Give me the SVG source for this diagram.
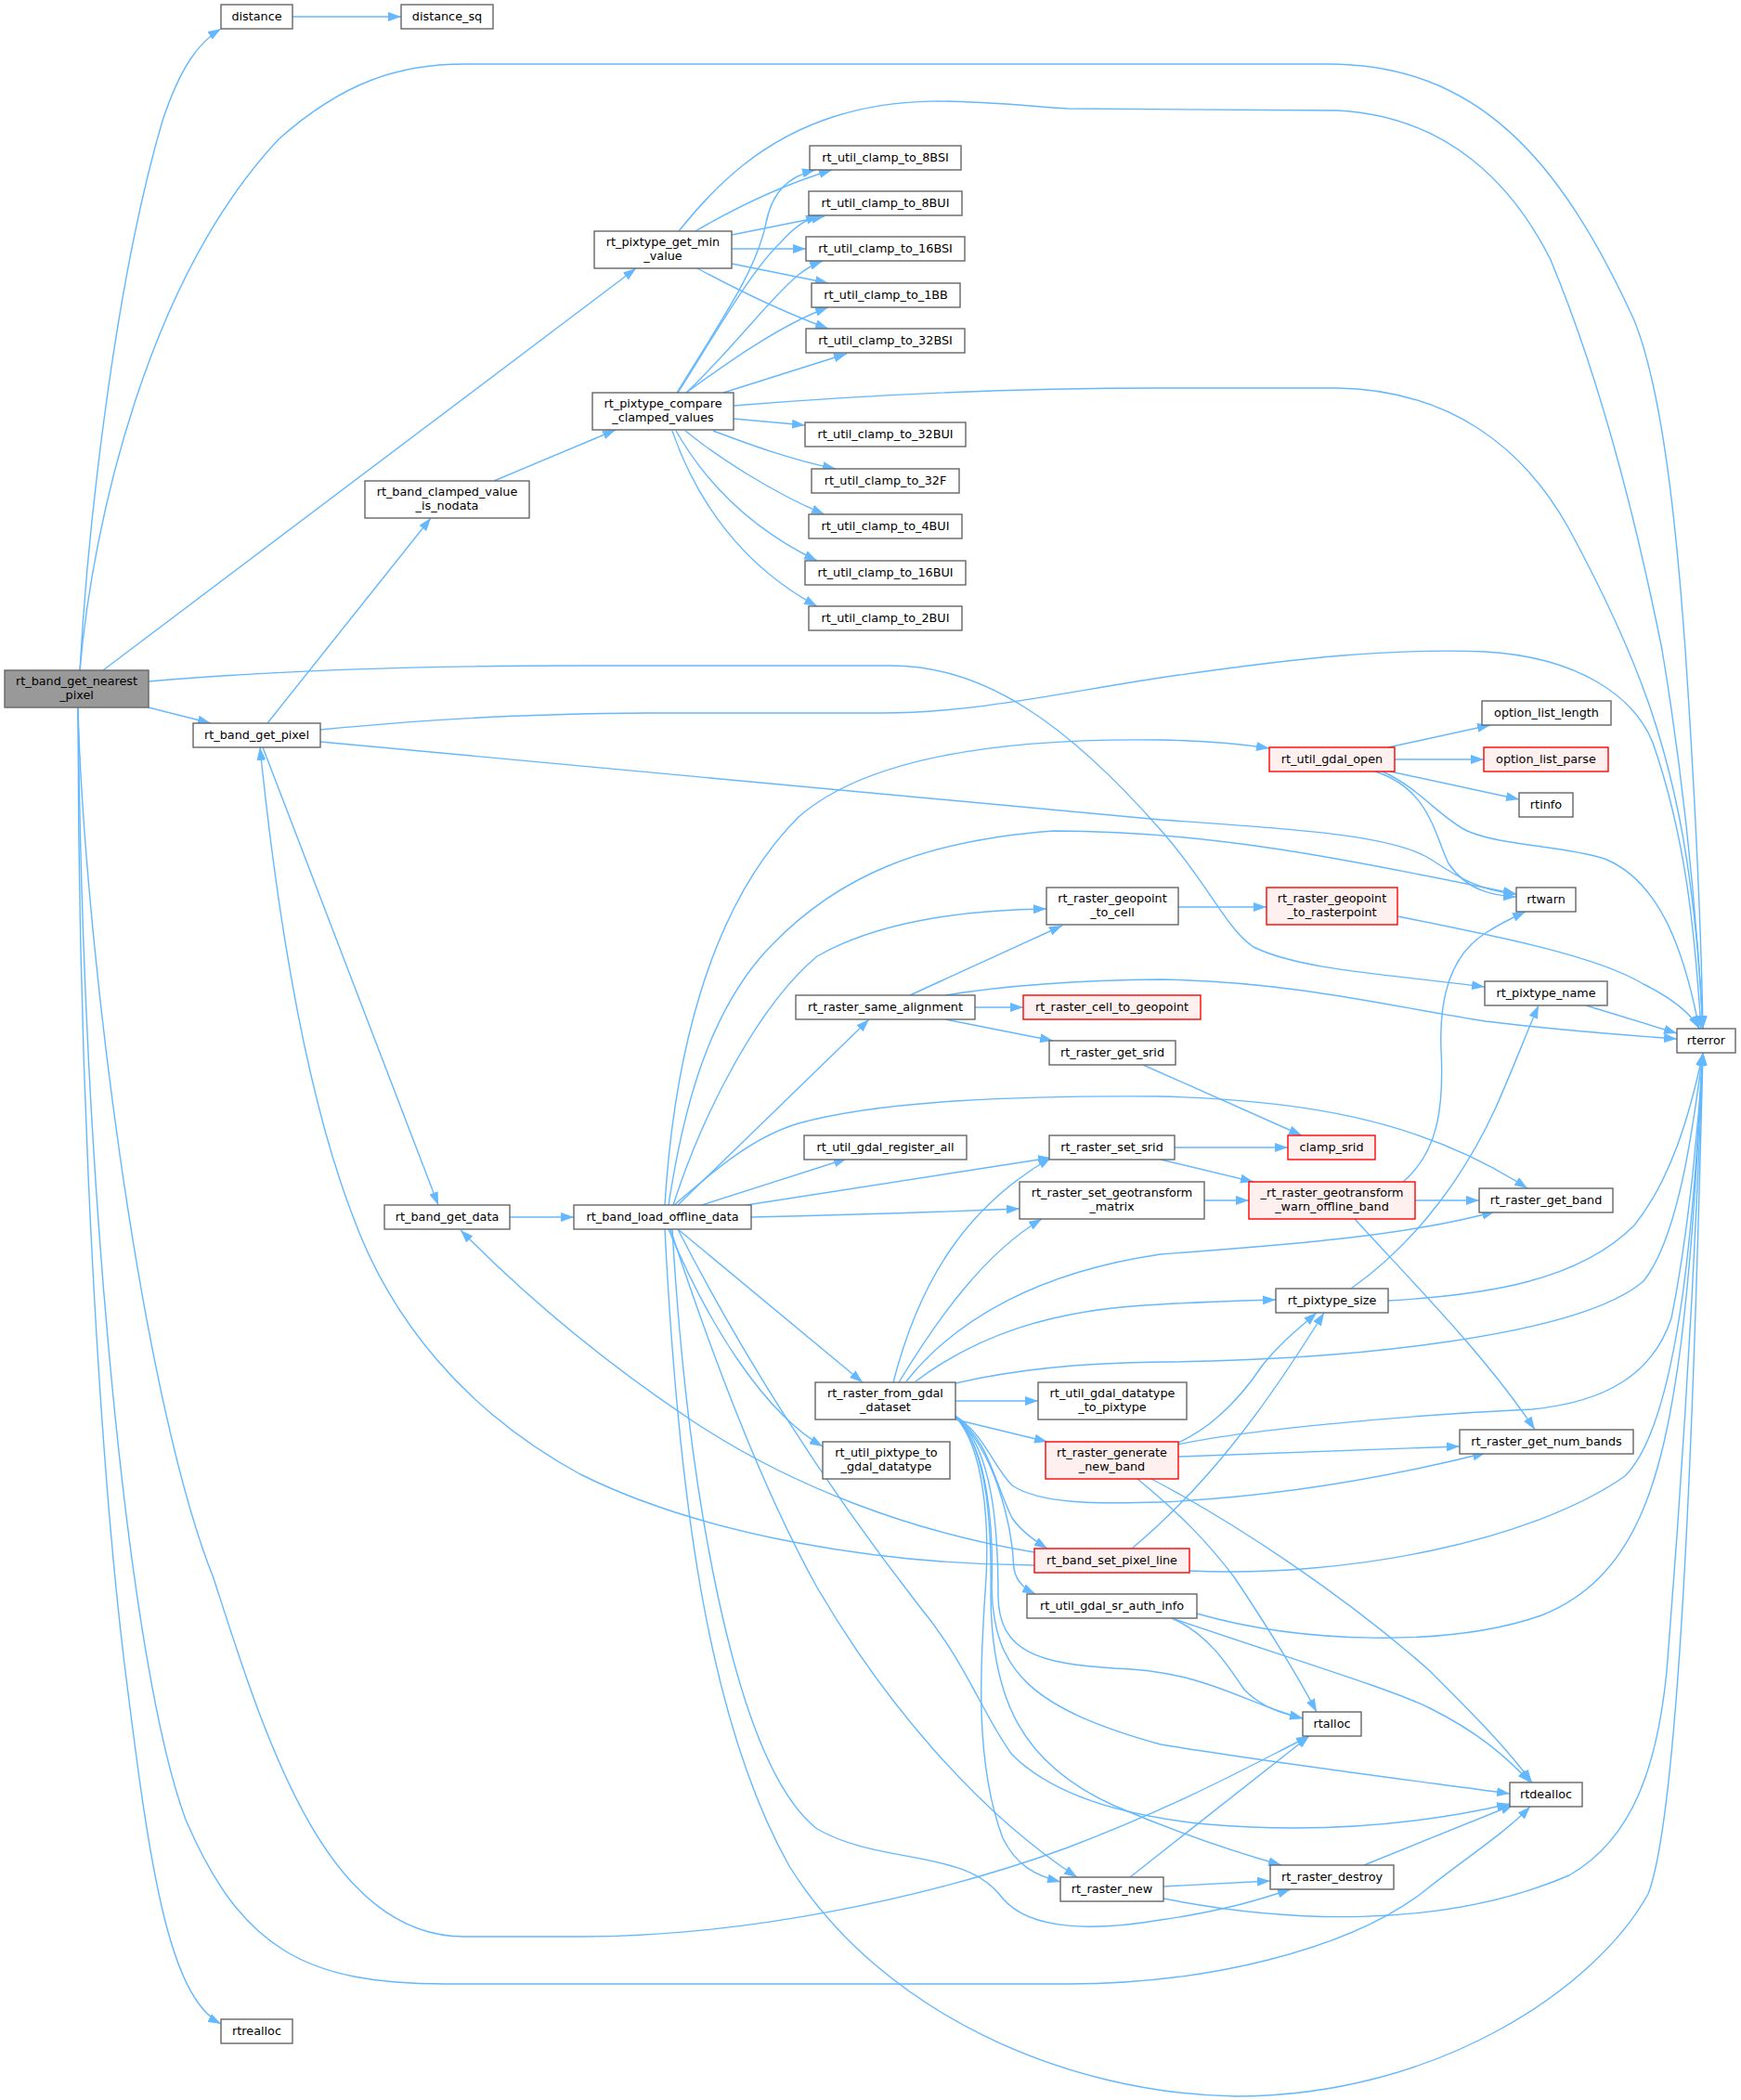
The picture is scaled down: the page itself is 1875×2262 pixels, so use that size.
<svg xmlns="http://www.w3.org/2000/svg" width="1875" height="2262" viewBox="0 0 1875 2262">
<style>
.n rect{fill:#ffffff;stroke:#666666;stroke-width:1.4}
.r rect{fill:#fff0f0;stroke:#ff0000;stroke-width:1.4}
.root rect{fill:#999999;stroke:#666666;stroke-width:1.4}
text{font-family:"DejaVu Sans",Verdana,sans-serif;font-size:12.8px;fill:#000000;text-anchor:middle}
#edges path{fill:none;stroke:#63b8ff;stroke-width:1.4;marker-end:url(#a)}
</style>
<defs>
<marker id="a" viewBox="0 0 14 10" refX="14" refY="5" markerWidth="14" markerHeight="10" markerUnits="userSpaceOnUse" orient="auto"><path d="M0,0 L14,5 L0,10 z" fill="#63b8ff"/></marker>
</defs>
<rect x="0" y="0" width="1875" height="2262" fill="#ffffff"/>
<g id="edges">
<path d="M 315,18 L 432,18"/>
<path d="M 86,722 C 95,560 125,300 175,130 C 195,70 215,45 238,31"/>
<path d="M 86,722 C 100,560 160,300 300,150 C 370,88 430,69 500,69 L 1430,69 C 1590,69 1680,170 1760,345 C 1790,420 1805,560 1815,700 C 1825,850 1832,1000 1834,1108"/>
<path d="M 111,722 L 685,289"/>
<path d="M 160,762 L 227,779"/>
<path d="M 160,734 C 300,722 450,717 625,717 L 960,717 C 1060,717 1150,780 1250,894 C 1300,950 1320,1000 1350,1020 C 1400,1045 1500,1050 1599,1063"/>
<path d="M 84,762 C 90,1000 150,1500 230,1700 C 285,1870 350,2086 500,2086 L 625,2086 C 800,2086 1000,2045 1150,1990 C 1280,1940 1350,1900 1410,1870"/>
<path d="M 84,762 C 84,1200 110,1600 135,1800 C 160,2000 180,2150 238,2180"/>
<path d="M 84,762 C 90,1300 140,1800 200,1960 C 260,2100 330,2137 480,2137 L 1150,2137 C 1300,2137 1450,2100 1530,2040 C 1580,2000 1620,1975 1648,1946"/>
<path d="M 288,779 L 464,558"/>
<path d="M 283,805 L 472,1298"/>
<path d="M 345,786 C 450,776 550,769 700,768 L 950,768 C 1050,768 1150,745 1250,730 C 1400,708 1500,698 1600,702 C 1700,708 1760,750 1780,800 C 1815,900 1825,1000 1832,1108"/>
<path d="M 345,799 L 1250,883 C 1400,893 1500,900 1540,925 C 1570,945 1595,960 1633,963"/>
<path d="M 532,518 L 663,463"/>
<path d="M 549,1311 L 618,1311"/>
<path d="M 731,249 C 770,200 820,150 900,125 C 980,100 1050,110 1150,117 L 1440,119 C 1560,125 1630,200 1670,280 C 1720,400 1760,550 1790,700 C 1815,850 1828,1000 1834,1108"/>
<path d="M 749,249 C 790,225 840,200 896,183"/>
<path d="M 788,253 L 888,233"/>
<path d="M 788,268 L 868,268"/>
<path d="M 788,284 L 892,305"/>
<path d="M 749,288 C 790,310 840,335 892,354"/>
<path d="M 729,423 C 780,340 815,290 825,240 C 832,205 850,190 878,183"/>
<path d="M 730,423 C 770,360 810,290 840,262 C 855,245 865,238 882,232"/>
<path d="M 739,423 C 790,375 830,320 860,296 C 870,288 878,284 886,281"/>
<path d="M 739,423 C 780,393 840,350 892,331"/>
<path d="M 779,423 L 912,381"/>
<path d="M 790,437 C 900,428 1050,418 1250,418 L 1440,418 C 1560,420 1640,480 1690,570 C 1760,700 1800,800 1820,950 C 1828,1010 1832,1060 1834,1108"/>
<path d="M 790,451 L 867,458"/>
<path d="M 768,464 C 800,476 850,495 900,505"/>
<path d="M 738,464 C 770,490 830,530 888,554"/>
<path d="M 728,464 C 760,520 810,570 880,604"/>
<path d="M 724,464 C 750,540 800,610 880,653"/>
<path d="M 1495,805 L 1605,781"/>
<path d="M 1502,818 L 1598,818"/>
<path d="M 1497,831 L 1636,861"/>
<path d="M 1481,831 C 1540,850 1545,900 1560,930 C 1580,960 1610,965 1633,966"/>
<path d="M 1489,831 C 1530,850 1550,880 1580,895 C 1620,912 1680,910 1728,925 C 1790,950 1815,1030 1830,1108"/>
<path d="M 1269,977 L 1364,977"/>
<path d="M 1505,987 C 1620,1010 1720,1030 1770,1060 C 1800,1075 1820,1090 1830,1108"/>
<path d="M 1708,1083 L 1806,1113"/>
<path d="M 980,1072 L 1144,997"/>
<path d="M 1050,1085 L 1102,1085"/>
<path d="M 1018,1098 L 1134,1121"/>
<path d="M 1018,1072 C 1080,1062 1150,1056 1250,1055 C 1400,1058 1500,1085 1600,1100 C 1680,1110 1750,1115 1806,1119"/>
<path d="M 1231,1147 L 1402,1223"/>
<path d="M 1265,1236 L 1387,1236"/>
<path d="M 1250,1249 L 1350,1273"/>
<path d="M 1297,1293 L 1345,1293"/>
<path d="M 1511,1273 C 1550,1240 1555,1190 1552,1130 C 1550,1080 1560,1030 1600,1005 C 1615,995 1630,988 1643,982"/>
<path d="M 1524,1293 L 1593,1293"/>
<path d="M 1459,1313 C 1520,1380 1600,1460 1653,1540"/>
<path d="M 1455,1388 C 1530,1335 1580,1260 1610,1195 C 1630,1150 1645,1110 1657,1083"/>
<path d="M 1495,1401 C 1600,1395 1700,1380 1760,1320 C 1800,1270 1820,1200 1834,1134"/>
<path d="M 716,1298 C 725,1150 760,980 860,880 C 940,810 1100,795 1250,797 C 1300,798 1340,802 1367,806"/>
<path d="M 720,1298 C 735,1200 760,1100 820,1030 C 900,940 1000,905 1135,895 C 1300,895 1450,925 1633,963"/>
<path d="M 725,1298 C 760,1190 820,1080 880,1030 C 950,990 1050,980 1127,979"/>
<path d="M 730,1298 L 936,1098"/>
<path d="M 726,1298 C 770,1260 810,1225 860,1210 C 950,1185 1100,1180 1250,1181 C 1400,1185 1530,1205 1645,1280"/>
<path d="M 756,1298 L 912,1248"/>
<path d="M 804,1298 L 1132,1247"/>
<path d="M 809,1311 C 900,1309 1000,1306 1098,1302"/>
<path d="M 730,1324 L 929,1489"/>
<path d="M 720,1324 C 760,1420 820,1520 886,1558"/>
<path d="M 716,1324 C 730,1600 760,1850 850,2010 C 950,2170 1150,2255 1330,2258 C 1550,2258 1720,2140 1775,2040 C 1810,1950 1825,1500 1834,1134"/>
<path d="M 724,1324 C 740,1600 790,1900 880,1970 C 950,2010 1040,1990 1080,2045 C 1110,2080 1180,2080 1250,2068 C 1320,2058 1360,2045 1390,2035"/>
<path d="M 722,1324 C 780,1500 830,1620 880,1710 C 950,1830 1050,1950 1160,2022"/>
<path d="M 730,1324 C 820,1500 920,1640 990,1730 C 1040,1790 1060,1850 1090,1890 C 1130,1930 1200,1955 1300,1965 C 1420,1975 1530,1965 1626,1943"/>
<path d="M 962,1489 C 990,1380 1040,1300 1132,1247"/>
<path d="M 968,1489 C 1010,1420 1060,1350 1122,1313"/>
<path d="M 976,1488 C 1030,1420 1120,1370 1250,1351 C 1400,1340 1520,1330 1610,1305"/>
<path d="M 986,1488 C 1050,1440 1130,1410 1250,1405 C 1300,1402 1340,1401 1374,1400"/>
<path d="M 1029,1490 C 1080,1478 1150,1468 1250,1467 C 1450,1465 1700,1440 1770,1380 C 1810,1330 1825,1200 1834,1134"/>
<path d="M 1029,1509 L 1118,1509"/>
<path d="M 1029,1529 L 1128,1553"/>
<path d="M 1029,1525 C 1060,1545 1070,1580 1090,1600 C 1120,1620 1180,1620 1250,1618 C 1380,1612 1500,1590 1600,1565"/>
<path d="M 1029,1526 C 1065,1550 1072,1600 1090,1635 C 1100,1650 1115,1660 1128,1668"/>
<path d="M 1029,1526 C 1070,1560 1090,1640 1092,1690 C 1095,1705 1105,1712 1115,1717"/>
<path d="M 1029,1526 C 1070,1560 1075,1650 1075,1720 C 1076,1780 1120,1792 1200,1797 C 1300,1800 1340,1835 1403,1851"/>
<path d="M 1029,1526 C 1065,1560 1070,1650 1068,1710 C 1070,1800 1110,1840 1250,1879 C 1380,1900 1500,1915 1626,1932"/>
<path d="M 1029,1526 C 1065,1560 1068,1650 1067,1720 C 1068,1830 1100,1900 1200,1945 C 1270,1975 1330,1995 1380,2009"/>
<path d="M 1029,1526 C 1060,1560 1065,1640 1062,1700 C 1055,1800 1050,1900 1080,1980 C 1095,2010 1115,2020 1142,2027"/>
<path d="M 1269,1554 C 1310,1535 1340,1500 1360,1470 C 1380,1445 1400,1430 1418,1414"/>
<path d="M 1269,1556 C 1330,1542 1500,1525 1650,1518 C 1730,1510 1780,1480 1800,1420 C 1820,1320 1830,1200 1834,1134"/>
<path d="M 1269,1569 C 1400,1565 1500,1560 1572,1558"/>
<path d="M 1225,1593 C 1270,1630 1300,1660 1330,1700 C 1370,1760 1400,1810 1418,1844"/>
<path d="M 1240,1593 C 1330,1640 1450,1720 1540,1800 C 1590,1850 1620,1880 1650,1920"/>
<path d="M 1219,1668 C 1300,1600 1360,1520 1426,1414"/>
<path d="M 1281,1692 C 1450,1700 1650,1660 1750,1590 C 1810,1530 1825,1300 1834,1134"/>
<path d="M 1114,1686 C 950,1685 760,1655 625,1588 C 500,1520 420,1420 380,1310 C 330,1180 300,1000 280,805"/>
<path d="M 1114,1672 C 980,1650 850,1600 745,1530 C 640,1460 560,1390 496,1325"/>
<path d="M 1262,1743 C 1300,1760 1320,1790 1340,1820 C 1360,1840 1380,1845 1403,1851"/>
<path d="M 1262,1743 C 1400,1790 1500,1820 1540,1840 C 1590,1865 1620,1890 1648,1920"/>
<path d="M 1289,1738 C 1400,1770 1560,1775 1660,1740 C 1760,1700 1790,1600 1810,1450 C 1825,1330 1830,1200 1834,1134"/>
<path d="M 1217,2022 L 1410,1870"/>
<path d="M 1253,2032 L 1368,2026"/>
<path d="M 1253,2045 C 1380,2070 1550,2080 1690,2020 C 1760,1980 1785,1900 1795,1800 C 1815,1550 1828,1300 1834,1134"/>
<path d="M 1469,2009 L 1630,1944"/>
</g>
<g id="n_nearest" class="root"><rect x="5" y="722" width="155" height="40"/><text x="82.5" y="738">rt_band_get_nearest</text><text x="82.5" y="752.5">_pixel</text></g>
<g id="n_distance" class="n"><rect x="238" y="5" width="77" height="26"/><text x="276.5" y="22">distance</text></g>
<g id="n_distance_sq" class="n"><rect x="432" y="5" width="99" height="26"/><text x="481.5" y="22">distance_sq</text></g>
<g id="n_min_value" class="n"><rect x="640" y="249" width="148" height="40"/><text x="714" y="265">rt_pixtype_get_min</text><text x="714" y="279.5">_value</text></g>
<g id="n_clamped" class="n"><rect x="393" y="518" width="177" height="40"/><text x="481.5" y="534">rt_band_clamped_value</text><text x="481.5" y="548.5">_is_nodata</text></g>
<g id="n_compare" class="n"><rect x="638" y="423" width="152" height="40"/><text x="714" y="439">rt_pixtype_compare</text><text x="714" y="453.5">_clamped_values</text></g>
<g id="n_8bsi" class="n"><rect x="872" y="157" width="163" height="26"/><text x="953.5" y="174">rt_util_clamp_to_8BSI</text></g>
<g id="n_8bui" class="n"><rect x="871" y="206" width="165" height="26"/><text x="953.5" y="223">rt_util_clamp_to_8BUI</text></g>
<g id="n_16bsi" class="n"><rect x="868" y="255" width="171" height="26"/><text x="953.5" y="272">rt_util_clamp_to_16BSI</text></g>
<g id="n_1bb" class="n"><rect x="874" y="305" width="160" height="26"/><text x="954" y="322">rt_util_clamp_to_1BB</text></g>
<g id="n_32bsi" class="n"><rect x="868" y="354" width="171" height="26"/><text x="953.5" y="371">rt_util_clamp_to_32BSI</text></g>
<g id="n_32bui" class="n"><rect x="867" y="455" width="173" height="26"/><text x="953.5" y="472">rt_util_clamp_to_32BUI</text></g>
<g id="n_32f" class="n"><rect x="874" y="505" width="159" height="26"/><text x="953.5" y="522">rt_util_clamp_to_32F</text></g>
<g id="n_4bui" class="n"><rect x="871" y="554" width="165" height="26"/><text x="953.5" y="571">rt_util_clamp_to_4BUI</text></g>
<g id="n_16bui" class="n"><rect x="867" y="604" width="173" height="26"/><text x="953.5" y="621">rt_util_clamp_to_16BUI</text></g>
<g id="n_2bui" class="n"><rect x="871" y="653" width="165" height="26"/><text x="953.5" y="670">rt_util_clamp_to_2BUI</text></g>
<g id="n_get_pixel" class="n"><rect x="208" y="779" width="137" height="26"/><text x="276.5" y="796">rt_band_get_pixel</text></g>
<g id="n_get_data" class="n"><rect x="414" y="1298" width="135" height="26"/><text x="481.5" y="1315">rt_band_get_data</text></g>
<g id="n_load_offline" class="n"><rect x="618" y="1298" width="191" height="26"/><text x="713.5" y="1315">rt_band_load_offline_data</text></g>
<g id="n_rtrealloc" class="n"><rect x="238" y="2175" width="77" height="26"/><text x="276.5" y="2192">rtrealloc</text></g>
<g id="n_gdal_open" class="r"><rect x="1367" y="805" width="135" height="26"/><text x="1434.5" y="822">rt_util_gdal_open</text></g>
<g id="n_opt_len" class="n"><rect x="1596" y="755" width="139" height="26"/><text x="1665.5" y="772">option_list_length</text></g>
<g id="n_opt_parse" class="r"><rect x="1598" y="805" width="134" height="26"/><text x="1665" y="822">option_list_parse</text></g>
<g id="n_rtinfo" class="n"><rect x="1636" y="854" width="58" height="26"/><text x="1665" y="871">rtinfo</text></g>
<g id="n_rtwarn" class="n"><rect x="1633" y="956" width="64" height="26"/><text x="1665" y="973">rtwarn</text></g>
<g id="n_geo_cell" class="n"><rect x="1127" y="956" width="142" height="40"/><text x="1198" y="972">rt_raster_geopoint</text><text x="1198" y="986.5">_to_cell</text></g>
<g id="n_geo_rp" class="r"><rect x="1364" y="956" width="141" height="40"/><text x="1434.5" y="972">rt_raster_geopoint</text><text x="1434.5" y="986.5">_to_rasterpoint</text></g>
<g id="n_pixtype_name" class="n"><rect x="1599" y="1057" width="132" height="26"/><text x="1665" y="1074">rt_pixtype_name</text></g>
<g id="n_rterror" class="n"><rect x="1806" y="1108" width="63" height="26"/><text x="1837.5" y="1125">rterror</text></g>
<g id="n_same_align" class="n"><rect x="857" y="1072" width="193" height="26"/><text x="953.5" y="1089">rt_raster_same_alignment</text></g>
<g id="n_cell_geo" class="r"><rect x="1102" y="1072" width="191" height="26"/><text x="1197.5" y="1089">rt_raster_cell_to_geopoint</text></g>
<g id="n_get_srid" class="n"><rect x="1130" y="1121" width="136" height="26"/><text x="1198" y="1138">rt_raster_get_srid</text></g>
<g id="n_register_all" class="n"><rect x="866" y="1223" width="175" height="26"/><text x="953.5" y="1240">rt_util_gdal_register_all</text></g>
<g id="n_set_srid" class="n"><rect x="1130" y="1223" width="135" height="26"/><text x="1197.5" y="1240">rt_raster_set_srid</text></g>
<g id="n_clamp_srid" class="r"><rect x="1387" y="1223" width="94" height="26"/><text x="1434" y="1240">clamp_srid</text></g>
<g id="n_set_geo" class="n"><rect x="1098" y="1273" width="199" height="40"/><text x="1197.5" y="1289">rt_raster_set_geotransform</text><text x="1197.5" y="1303.5">_matrix</text></g>
<g id="n_warn_offline" class="r"><rect x="1345" y="1273" width="179" height="40"/><text x="1434.5" y="1289">_rt_raster_geotransform</text><text x="1434.5" y="1303.5">_warn_offline_band</text></g>
<g id="n_get_band" class="n"><rect x="1593" y="1280" width="144" height="26"/><text x="1665" y="1297">rt_raster_get_band</text></g>
<g id="n_pixtype_size" class="n"><rect x="1374" y="1388" width="121" height="26"/><text x="1434.5" y="1405">rt_pixtype_size</text></g>
<g id="n_from_gdal" class="n"><rect x="878" y="1489" width="151" height="40"/><text x="953.5" y="1505">rt_raster_from_gdal</text><text x="953.5" y="1519.5">_dataset</text></g>
<g id="n_dt_to_pt" class="n"><rect x="1118" y="1489" width="160" height="40"/><text x="1198" y="1505">rt_util_gdal_datatype</text><text x="1198" y="1519.5">_to_pixtype</text></g>
<g id="n_pt_to_dt" class="n"><rect x="886" y="1553" width="137" height="40"/><text x="954.5" y="1569">rt_util_pixtype_to</text><text x="954.5" y="1583.5">_gdal_datatype</text></g>
<g id="n_gen_band" class="r"><rect x="1126" y="1553" width="143" height="40"/><text x="1197.5" y="1569">rt_raster_generate</text><text x="1197.5" y="1583.5">_new_band</text></g>
<g id="n_num_bands" class="n"><rect x="1572" y="1540" width="187" height="26"/><text x="1665.5" y="1557">rt_raster_get_num_bands</text></g>
<g id="n_set_pixel_line" class="r"><rect x="1114" y="1668" width="167" height="26"/><text x="1197.5" y="1685">rt_band_set_pixel_line</text></g>
<g id="n_sr_auth" class="n"><rect x="1106" y="1717" width="183" height="26"/><text x="1197.5" y="1734">rt_util_gdal_sr_auth_info</text></g>
<g id="n_rtalloc" class="n"><rect x="1403" y="1844" width="63" height="26"/><text x="1434.5" y="1861">rtalloc</text></g>
<g id="n_rtdealloc" class="n"><rect x="1626" y="1920" width="78" height="26"/><text x="1665" y="1937">rtdealloc</text></g>
<g id="n_destroy" class="n"><rect x="1368" y="2009" width="133" height="26"/><text x="1434.5" y="2026">rt_raster_destroy</text></g>
<g id="n_raster_new" class="n"><rect x="1142" y="2022" width="111" height="26"/><text x="1197.5" y="2039">rt_raster_new</text></g>
</svg>
